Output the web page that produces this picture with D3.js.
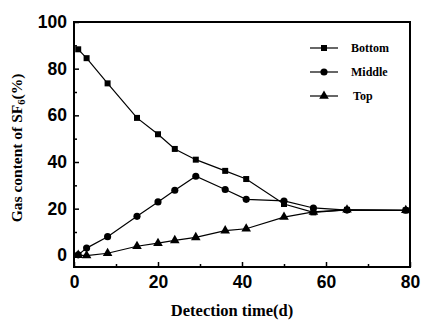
<!DOCTYPE html>
<html><head><meta charset="utf-8">
<script src="https://cdn.jsdelivr.net/npm/d3@7/dist/d3.min.js"></script>
<style>body{margin:0;background:#fff}svg{display:block}</style>
</head><body>
<script>
const days = [1, 3, 8, 15, 20, 24, 29, 36, 41, 50, 57, 65, 79];
const bottom = [88.3, 84.5, 73.7, 58.9, 51.9, 45.6, 41.0, 36.2, 32.7, 22.0, 18.4, 19.5, 19.3];
const middle = [0.2, 3.1, 8.0, 16.7, 22.9, 27.9, 33.9, 28.2, 24.0, 23.3, 20.3, 19.4, 19.3];
const top_ = [0.1, -0.1, 0.9, 3.9, 5.2, 6.4, 7.7, 10.6, 11.4, 16.4, 18.6, 19.5, 19.3];
const seriesNames = ["Bottom", "Middle", "Top"];
const markerTypes = [d3.symbolSquare, d3.symbolCircle, d3.symbolTriangle];
const xTicks = [0, 20, 40, 60, 80];
const yTicks = [0, 20, 40, 60, 80, 100];

const W = 422, H = 321;
const m = {l: 74, t: 22, r: 12, b: 54};
const svg = d3.select("body").append("svg").attr("width", W).attr("height", H);
const x = d3.scaleLinear().domain([0, 80]).range([m.l, W - m.r]);
const y = d3.scaleLinear().domain([-5, 100]).range([H - m.b, m.t]);

const series = [bottom, middle, top_].map((vals, i) => ({
  name: seriesNames[i], sym: markerTypes[i],
  pts: days.map((d, j) => [d, vals[j]])
}));

const line = d3.line().x(d => x(d[0])).y(d => y(d[1]));
const symSize = [36, 40, 40];
series.forEach((s, i) => {
  svg.append("path").attr("d", line(s.pts)).attr("fill", "none")
    .attr("stroke", "#000").attr("stroke-width", 1.2);
  svg.selectAll(null).data(s.pts).enter().append("path")
    .attr("d", d3.symbol().type(s.sym).size(symSize[i]))
    .attr("transform", d => `translate(${x(d[0])},${y(d[1])})`)
    .attr("fill", "#000");
});

// axes
const xAx = svg.append("g").attr("transform", `translate(0,${H - m.b})`)
  .call(d3.axisBottom(x).tickValues(xTicks).tickSize(-5).tickPadding(9).tickFormat(d3.format("d")));
const xMin = svg.append("g").attr("transform", `translate(0,${H - m.b})`)
  .call(d3.axisBottom(x).tickValues([10, 30, 50, 70]).tickSize(-3).tickFormat(""));
const yAx = svg.append("g").attr("transform", `translate(${m.l},0)`)
  .call(d3.axisLeft(y).tickValues(yTicks).tickSize(-5).tickPadding(7).tickFormat(d3.format("d")));
const yMin = svg.append("g").attr("transform", `translate(${m.l},0)`)
  .call(d3.axisLeft(y).tickValues([10, 30, 50, 70, 90]).tickSize(-3).tickFormat(""));
[xAx, xMin, yAx, yMin].forEach(g => {
  g.select(".domain").remove();
  g.selectAll("line").attr("stroke", "#000").attr("stroke-width", 1.5);
  g.selectAll("text").attr("fill", "#000").attr("font-family", "Liberation Sans, Arial, sans-serif")
    .attr("font-weight", "bold").attr("font-size", 17.5);
});
svg.append("rect").attr("x", m.l).attr("y", m.t).attr("width", W - m.r - m.l).attr("height", H - m.b - m.t)
  .attr("fill", "none").attr("stroke", "#000").attr("stroke-width", 2);

// axis titles
svg.append("text").attr("x", 232).attr("y", 316)
  .attr("text-anchor", "middle").attr("font-family", "Liberation Serif, Times New Roman, serif")
  .attr("font-weight", "bold").attr("font-size", 16.5).text("Detection time(d)");
const yt = svg.append("text").attr("transform", "translate(22,148) rotate(-90)")
  .attr("text-anchor", "middle").attr("font-family", "Liberation Serif, Times New Roman, serif")
  .attr("font-weight", "bold").attr("font-size", 15.5);
yt.append("tspan").text("Gas content of SF");
yt.append("tspan").attr("font-size", 10.5).attr("dy", 3).text("6");
yt.append("tspan").attr("dy", -3).text("(%)");

// legend
const leg = svg.append("g");
series.forEach((s, i) => {
  const ly = 48 + i * 24;
  leg.append("line").attr("x1", 310).attr("x2", 338).attr("y1", ly).attr("y2", ly)
    .attr("stroke", "#000").attr("stroke-width", 1.2);
  leg.append("path").attr("d", d3.symbol().type(s.sym).size(symSize[i]))
    .attr("transform", `translate(324,${ly})`).attr("fill", "#000");
  leg.append("text").attr("x", i === 2 ? 353 : 351).attr("y", ly + 4)
    .attr("font-family", "Liberation Serif, Times New Roman, serif")
    .attr("font-weight", "bold").attr("font-size", 12).text(s.name);
});
</script>
</body></html>
